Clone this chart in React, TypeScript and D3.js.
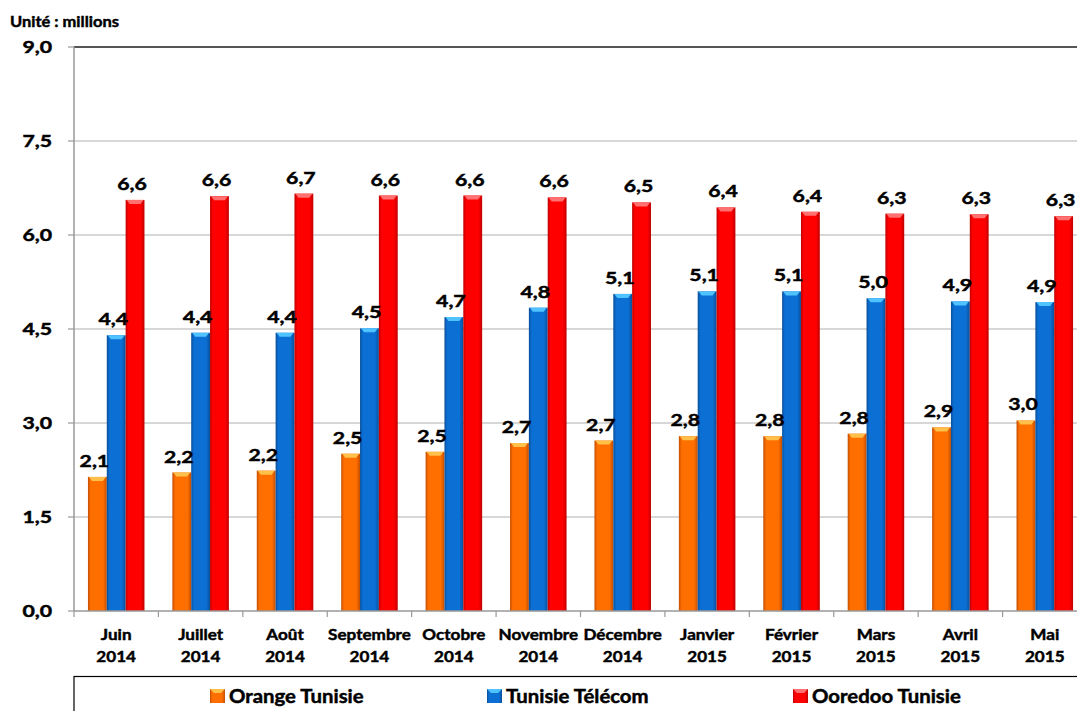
import * as d3 from "d3";

// Parc mobile (millions d'abonnés)
const months = ["Juin", "Juillet", "Août", "Septembre", "Octobre", "Novembre", "Décembre", "Janvier", "Février", "Mars", "Avril", "Mai"];
const years = ["2014", "2014", "2014", "2014", "2014", "2014", "2014", "2015", "2015", "2015", "2015", "2015"];
const orange = [2.14, 2.21, 2.24, 2.51, 2.54, 2.68, 2.72, 2.79, 2.79, 2.83, 2.93, 3.04];
const telecom = [4.4, 4.44, 4.44, 4.51, 4.69, 4.84, 5.06, 5.1, 5.1, 4.99, 4.94, 4.93];
const ooredoo = [6.56, 6.62, 6.66, 6.63, 6.63, 6.6, 6.52, 6.44, 6.37, 6.34, 6.33, 6.3];
const yTicks = [0, 1.5, 3, 4.5, 6, 7.5, 9];

const seriesNames = ["Orange Tunisie", "Tunisie Télécom", "Ooredoo Tunisie"];
const seriesValues = [orange, telecom, ooredoo];
const colors = [
  { id: "g-or", main: "#ff6f00", edge: "#c44e00", cap: "#ffc04a" },
  { id: "g-bl", main: "#0b6fd4", edge: "#0a4f98", cap: "#4fc3ff" },
  { id: "g-rd", main: "#ff0000", edge: "#c00000", cap: "#ff7070" },
];

const width = 1077;
const height = 711;
const marginLeft = 74;
const plotRight = 1087;
const marginTop = 47;
const plotBottom = 611;

const fmt = (v: number) => d3.format(".1f")(v).replace(".", ",");
const font = "Lato, 'Open Sans', sans-serif";

// the original picture is stretched sideways, so text gets a horizontal scale
function T({ x, y, size, sx = 1.2, anchor = "start", children }: {
  x: number; y: number; size: number; sx?: number; anchor?: string; children: any;
}) {
  return (
    <g transform={`translate(${x},${y}) scale(${sx},1)`}>
      <text textAnchor={anchor} fontSize={size} fontWeight="bold" stroke="#000" strokeWidth={0.45}>{children}</text>
    </g>
  );
}

export default function App() {
  const x0 = d3.scaleBand().domain(months).range([marginLeft, plotRight]).paddingInner(0).paddingOuter(0);
  const x1 = d3.scaleBand().domain(seriesNames).range([0, x0.bandwidth()]).paddingInner(0).paddingOuter(0.74);
  const y = d3.scaleLinear().domain([0, 9]).range([plotBottom, marginTop]);

  return (
    <svg width={width} height={height} style={{ position: "absolute", left: 0, top: 0, background: "#fff" }} fontFamily={font}>
      <defs>
        {colors.map((c) => (
          <linearGradient key={c.id} id={c.id} x1="0" x2="1" y1="0" y2="0">
            <stop offset="0" stopColor={c.edge} />
            <stop offset="0.15" stopColor={c.main} />
            <stop offset="0.8" stopColor={c.main} />
            <stop offset="1" stopColor={c.edge} />
          </linearGradient>
        ))}
      </defs>

      <T x={10} y={27} size={15} sx={1.1}>Unité : millions</T>

      {/* gridlines */}
      {yTicks.map((t) => (
        <g key={t}>
          {t > 0 && (
            <line x1={marginLeft} x2={width} y1={y(t)} y2={y(t)}
              stroke={t === 9 ? "#555" : "#b0b0b0"} strokeWidth={t === 9 ? 2 : 1.2} />
          )}
          <line x1={marginLeft - 6} x2={marginLeft} y1={y(t)} y2={y(t)} stroke="#999" strokeWidth={1.2} />
          <T x={52} y={y(t) + 6} size={17} sx={1.25} anchor="end">{fmt(t)}</T>
        </g>
      ))}

      {/* bars */}
      {months.map((m, i) => (
        <g key={m} transform={`translate(${x0(m)},0)`}>
          {seriesNames.map((s, k) => {
            const v = seriesValues[k][i];
            const bx = x1(s) ?? 0;
            const bw = x1.bandwidth();
            return (
              <g key={s}>
                <rect x={bx} y={y(v)} width={bw} height={y(0) - y(v)} fill={`url(#${colors[k].id})`} />
                <path d={`M${bx + 1},${y(v)} L${bx + bw - 1},${y(v)} L${bx + bw - 4},${y(v) + 4} L${bx + 4},${y(v) + 4} Z`}
                  fill={colors[k].cap} />
              </g>
            );
          })}
        </g>
      ))}

      {/* data labels */}
      {months.map((m, i) => (
        <g key={m + "-lab"} transform={`translate(${x0(m)},0)`}>
          {seriesNames.map((s, k) => {
            const v = seriesValues[k][i];
            return (
              <T key={s} x={(x1(s) ?? 0) + x1.bandwidth() / 2 - 3} y={y(v) - 10} size={17} sx={1.25} anchor="middle">
                {fmt(v)}
              </T>
            );
          })}
        </g>
      ))}

      {/* axes */}
      <line x1={marginLeft} x2={marginLeft} y1={marginTop} y2={plotBottom} stroke="#999" strokeWidth={1.5} />
      <line x1={marginLeft} x2={width} y1={plotBottom} y2={plotBottom} stroke="#999" strokeWidth={1.5} />
      {months.map((m) => (
        <line key={m + "-t"} x1={x0(m)} x2={x0(m)} y1={plotBottom} y2={plotBottom + 6} stroke="#999" strokeWidth={1.2} />
      ))}
      {months.map((m, i) => {
        const cx = (x0(m) ?? 0) + x0.bandwidth() / 2;
        return (
          <g key={m + "-x"}>
            <T x={cx} y={640} size={15} sx={1.14} anchor="middle">{m}</T>
            <T x={cx} y={662} size={15} sx={1.14} anchor="middle">{years[i]}</T>
          </g>
        );
      })}

      {/* legend */}
      <rect x={marginLeft} y={676.5} width={1100} height={60} fill="none" stroke="#000" strokeWidth={1.2} />
      {seriesNames.map((s, k) => {
        const lx = [210, 487, 793][k];
        return (
          <g key={s + "-leg"}>
            <rect x={lx} y={689} width={15} height={14} fill={`url(#${colors[k].id})`} />
            <path d={`M${lx},689 L${lx + 15},689 L${lx + 11},693 L${lx + 4},693 Z`} fill={colors[k].cap} />
            <T x={lx + 19} y={703} size={18.5} sx={1.1}>{s}</T>
          </g>
        );
      })}
    </svg>
  );
}
